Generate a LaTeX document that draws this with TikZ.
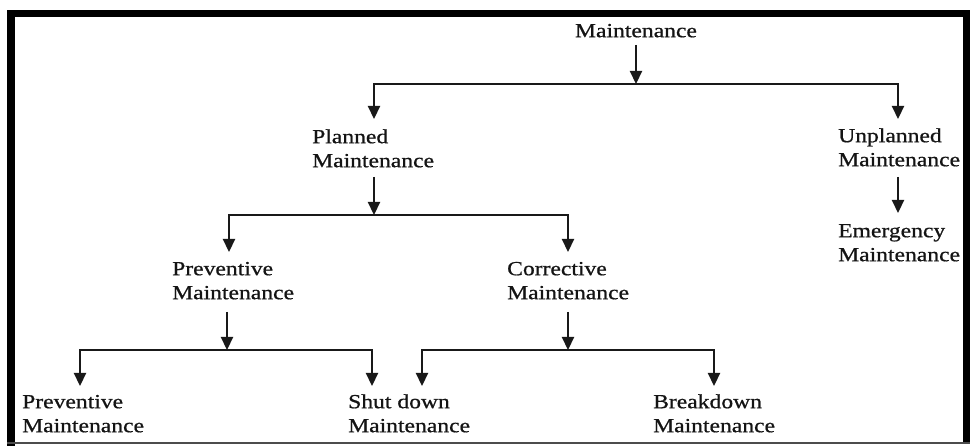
\documentclass[tikz,border=0pt]{standalone}
\usepackage{fontspec}
\setmainfont{Liberation Serif}[FakeStretch=1.18,FakeBold=0.8]
\usetikzlibrary{arrows.meta}
\tikzset{
  lbl/.style={inner sep=0pt, anchor=north west, align=left, text=black!92,
    font=\fontsize{20}{24}\selectfont},
  conn/.style={line width=2.2pt, draw=black!90},
  arr/.style={conn, -{Triangle[width=12pt,length=13pt]}},
}
\begin{document}
\begin{tikzpicture}[x=1pt,y=-1pt]
\useasboundingbox (0,0) rectangle (970,446);
% frame
\fill[black] (7,10) rectangle (970,17);
\fill[black] (7,10) rectangle (15,446);
\fill[black] (963,10) rectangle (970,443);
\fill[black!70] (7,442) rectangle (970,444.5);

% nodes
\node[lbl, anchor=north] (root) at (636,37-16.8) {\strut Maintenance};
\node[lbl] (planned) at (312,143-16.8) {\strut Planned\\\strut Maintenance};
\node[lbl] (unplanned) at (838,142-16.8) {\strut Unplanned\\\strut Maintenance};
\node[lbl] (emergency) at (838,237-16.8) {\strut Emergency\\\strut Maintenance};
\node[lbl] (prev) at (172,275-16.8) {\strut Preventive\\\strut Maintenance};
\node[lbl] (corr) at (507,275-16.8) {\strut Corrective\\\strut Maintenance};
\node[lbl] (prev2) at (22,408-16.8) {\strut Preventive\\\strut Maintenance};
\node[lbl] (shut) at (348,408-16.8) {\strut Shut down\\\strut Maintenance};
\node[lbl] (brk) at (653,408-16.8) {\strut Breakdown\\\strut Maintenance};

% connector coordinates
\coordinate (rootout) at (636,45);
\coordinate (j0) at (636,84);
\coordinate (plin) at (374,119);
\coordinate (unin) at (898,119);
\coordinate (plout) at (374,177);
\coordinate (j1) at (374,215);
\coordinate (prin) at (229,252);
\coordinate (coin) at (568,252);
\coordinate (unout) at (898,177);
\coordinate (emin) at (898,213);
\coordinate (prout) at (227,312);
\coordinate (j2) at (227,350);
\coordinate (p2in) at (80,386);
\coordinate (shin) at (372,386);
\coordinate (coout) at (568,312);
\coordinate (j3) at (568,350);
\coordinate (sh2in) at (422,386);
\coordinate (brin) at (714,386);

% connectors
\draw[arr] (rootout) -- (j0);
\draw[arr] (j0) -| (plin);
\draw[arr] (j0) -| (unin);
\draw[arr] (plout) -- (j1);
\draw[arr] (j1) -| (prin);
\draw[arr] (j1) -| (coin);
\draw[arr] (unout) -- (emin);
\draw[arr] (prout) -- (j2);
\draw[arr] (j2) -| (p2in);
\draw[arr] (j2) -| (shin);
\draw[arr] (coout) -- (j3);
\draw[arr] (j3) -| (sh2in);
\draw[arr] (j3) -| (brin);
\end{tikzpicture}
\end{document}
